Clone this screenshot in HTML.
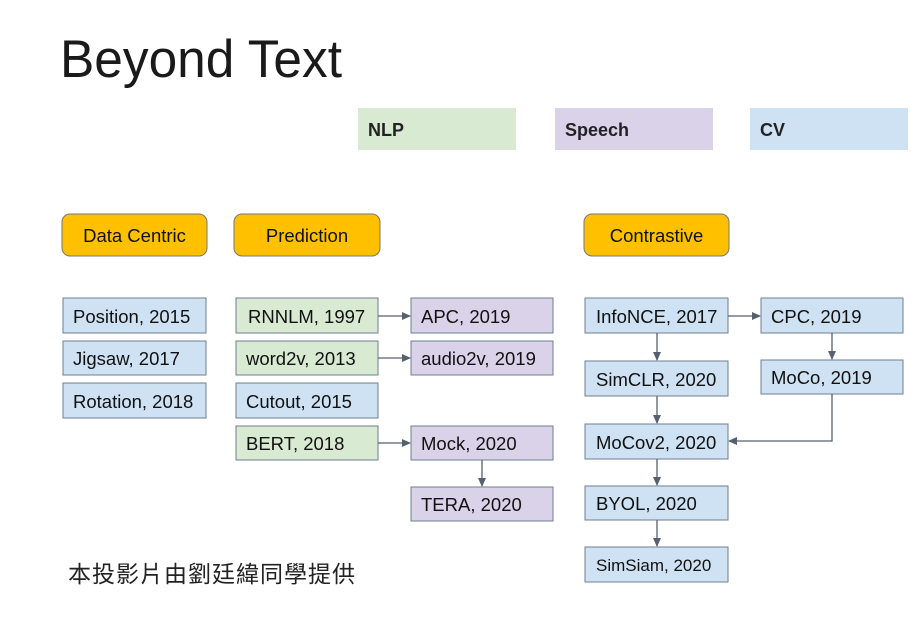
<!DOCTYPE html>
<html><head><meta charset="utf-8"><style>
html,body{margin:0;padding:0;background:#fff;}
svg{display:block;}
.b{stroke:#6e7f91;stroke-width:1;}
.t{font-family:"Liberation Sans",Arial,sans-serif;font-size:18.5px;fill:#111;}
.a{stroke:#56606e;stroke-width:1.3;fill:none;}
</style></head><body>
<svg width="923" height="640" viewBox="0 0 923 640" xmlns="http://www.w3.org/2000/svg">
<defs><marker id="ar" markerWidth="9" markerHeight="9" refX="8" refY="4.5" orient="auto" markerUnits="userSpaceOnUse"><path d="M0,0.5 L9,4.5 L0,8.5 Z" fill="#56606e"/></marker></defs>
<text x="60" y="77" font-family="'Liberation Sans',sans-serif" font-size="53" fill="#1a1a1a" textLength="282" lengthAdjust="spacingAndGlyphs">Beyond Text</text>
<rect x="358" y="108" width="158" height="42" fill="#d9ead3"/>
<rect x="555" y="108" width="158" height="42" fill="#d9d2e9"/>
<rect x="750" y="108" width="158" height="42" fill="#cfe2f3"/>
<g font-family="'Liberation Sans',sans-serif" font-weight="bold" font-size="18" fill="#222">
<text x="368" y="136">NLP</text><text x="565" y="136">Speech</text><text x="760" y="136">CV</text></g>
<g fill="#ffc000" stroke="#777" stroke-width="1">
<rect x="62" y="214" width="145" height="42" rx="8"/>
<rect x="234" y="214" width="146" height="42" rx="8"/>
<rect x="584" y="214" width="145" height="42" rx="8"/></g>
<g class="t" text-anchor="middle"><text x="134.5" y="242">Data Centric</text><text x="307" y="242">Prediction</text><text x="656.5" y="242">Contrastive</text></g>
<g class="b">
<rect x="63" y="298" width="143" height="35" fill="#cfe2f3"/>
<rect x="63" y="341" width="143" height="34" fill="#cfe2f3"/>
<rect x="63" y="383" width="143" height="35" fill="#cfe2f3"/>
<rect x="236" y="298" width="142" height="35" fill="#d9ead3"/>
<rect x="236" y="341" width="142" height="34" fill="#d9ead3"/>
<rect x="236" y="383" width="142" height="35" fill="#cfe2f3"/>
<rect x="236" y="426" width="142" height="34" fill="#d9ead3"/>
<rect x="411" y="298" width="142" height="35" fill="#d9d2e9"/>
<rect x="411" y="341" width="142" height="34" fill="#d9d2e9"/>
<rect x="411" y="426" width="142" height="34" fill="#d9d2e9"/>
<rect x="411" y="487" width="142" height="34" fill="#d9d2e9"/>
<rect x="585" y="298" width="143" height="35" fill="#cfe2f3"/>
<rect x="585" y="361" width="143" height="35" fill="#cfe2f3"/>
<rect x="585" y="424" width="143" height="35" fill="#cfe2f3"/>
<rect x="585" y="486" width="143" height="34" fill="#cfe2f3"/>
<rect x="585" y="547" width="143" height="35" fill="#cfe2f3"/>
<rect x="761" y="298" width="142" height="35" fill="#cfe2f3"/>
<rect x="761" y="360" width="142" height="34" fill="#cfe2f3"/>
</g>
<g class="t">
<text x="73" y="323">Position, 2015</text>
<text x="73" y="365">Jigsaw, 2017</text>
<text x="73" y="408">Rotation, 2018</text>
<text x="248" y="323">RNNLM, 1997</text>
<text x="246" y="365">word2v, 2013</text>
<text x="246" y="408">Cutout, 2015</text>
<text x="246" y="450">BERT, 2018</text>
<text x="421" y="323">APC, 2019</text>
<text x="421" y="365">audio2v, 2019</text>
<text x="421" y="450">Mock, 2020</text>
<text x="421" y="511">TERA, 2020</text>
<text x="596" y="323">InfoNCE, 2017</text>
<text x="596" y="386">SimCLR, 2020</text>
<text x="596" y="449">MoCov2, 2020</text>
<text x="596" y="510">BYOL, 2020</text>
<text x="596" y="571" font-size="17">SimSiam, 2020</text>
<text x="771" y="323">CPC, 2019</text>
<text x="771" y="384">MoCo, 2019</text>
</g>
<g class="a" marker-end="url(#ar)">
<path d="M378 316 H410"/><path d="M378 358 H410"/><path d="M378 443 H410"/>
<path d="M482 460 V486"/>
<path d="M728 316 H760"/><path d="M832 333 V359"/>
<path d="M832 394 V441 H729"/>
<path d="M657 333 V360"/><path d="M657 396 V423"/><path d="M657 459 V485"/><path d="M657 520 V546"/>
</g>
<text x="68" y="582" font-family="'Liberation Sans','Noto Sans CJK TC',sans-serif" font-size="23" fill="#222" textLength="287" lengthAdjust="spacing">本投影片由劉廷緯同學提供</text>
</svg>
</body></html>
